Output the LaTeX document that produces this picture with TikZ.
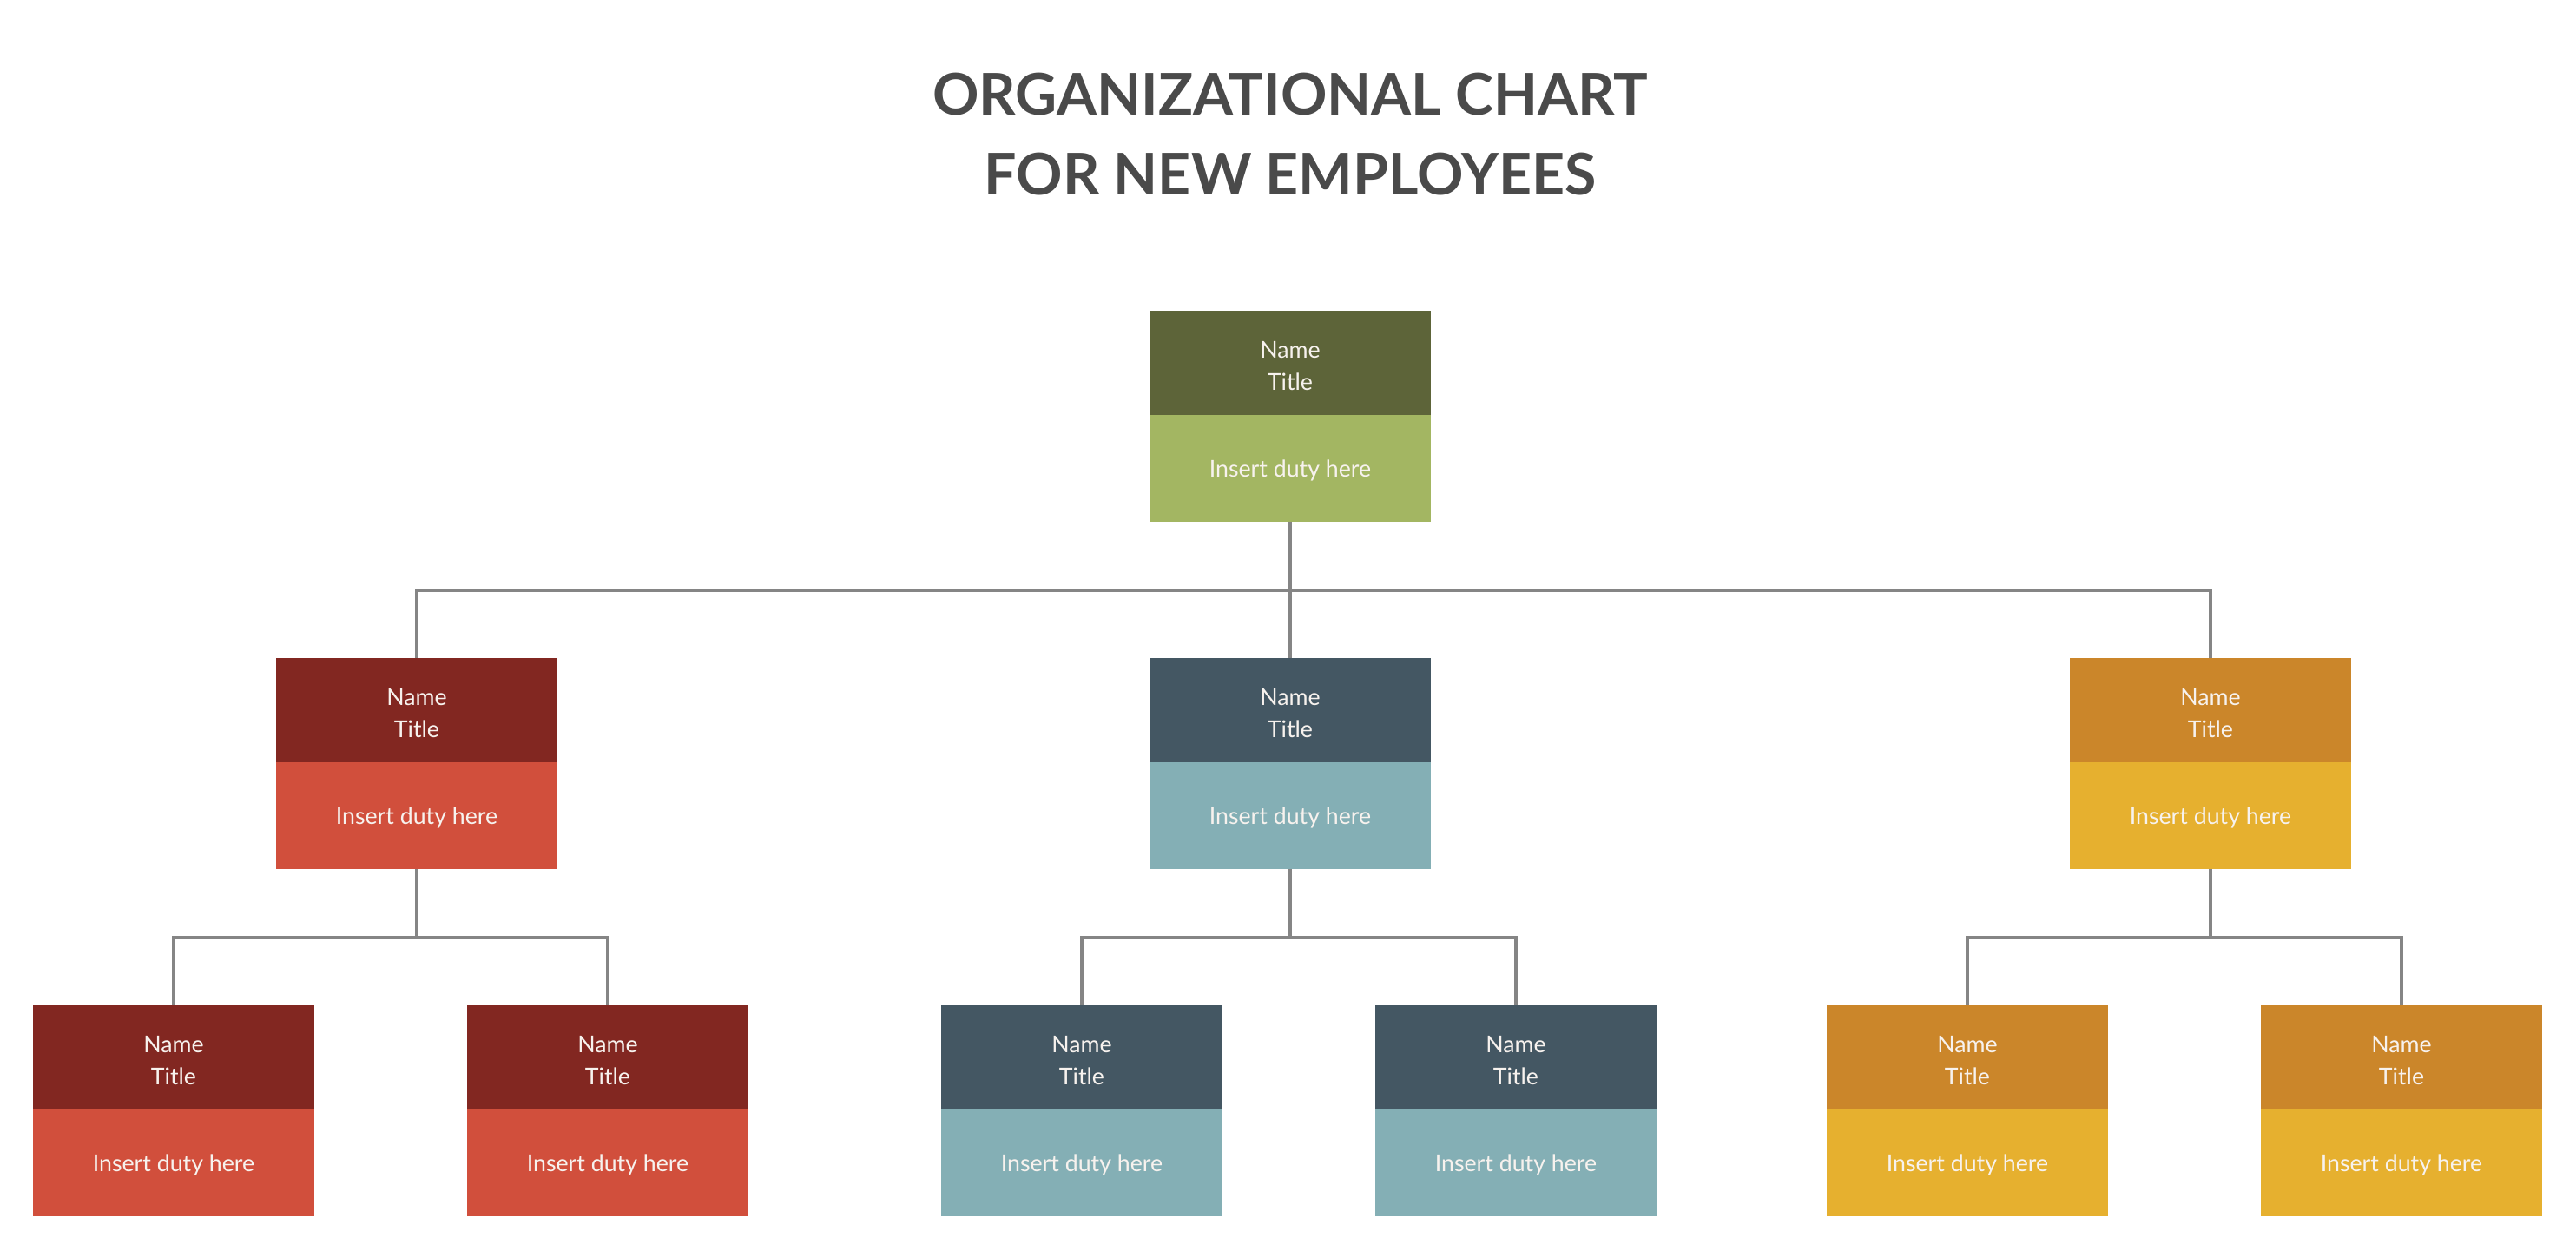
\documentclass[tikz,border=0pt]{standalone}
\usepackage{fontspec}
\setmainfont{Lato}
\usetikzlibrary{positioning}

\definecolor{olivedark}{HTML}{5D6439}
\definecolor{olivelight}{HTML}{A3B662}
\definecolor{reddark}{HTML}{822721}
\definecolor{redlight}{HTML}{D14F3C}
\definecolor{slatedark}{HTML}{445763}
\definecolor{slatelight}{HTML}{84AFB5}
\definecolor{amberdark}{HTML}{CB862A}
\definecolor{amberlight}{HTML}{E6B02F}
\definecolor{titlegray}{HTML}{4A4A4A}
\definecolor{linkgray}{HTML}{858585}
\definecolor{boxtext}{HTML}{F7F2EE}

\tikzset{
  headbox/.style={rectangle, minimum width=3.24cm, minimum height=1.20cm,
    inner sep=0pt, outer sep=0pt, align=center, text=boxtext,
    text height=18.2pt, font=\fontsize{7.6}{10.5}\selectfont},
  dutybox/.style={headbox, minimum height=1.23cm, text height=6.8pt},
  titletext/.style={anchor=base, text=titlegray,
    font=\fontsize{18.85}{24}\selectfont\bfseries},
  link/.style={draw=linkgray, line width=1.1pt}
}

\begin{document}
\begin{tikzpicture}
\useasboundingbox (0,0) rectangle (29.67,14.40);

% Title
\node[titletext] (title1) at (14.86,13.07) {ORGANIZATIONAL CHART};
\node[titletext] (title2) at (14.86,12.15) {FOR NEW EMPLOYEES};

% Top level
\node[headbox, fill=olivedark] (topH) at (14.86,10.22) {Name\\Title};
\node[dutybox, fill=olivelight, below=0pt of topH] (topD) {Insert duty here};

% Second level
\node[headbox, fill=reddark] (leftH) at (4.80,6.22) {Name\\Title};
\node[dutybox, fill=redlight, below=0pt of leftH] (leftD) {Insert duty here};

\node[headbox, fill=slatedark] (midH) at (14.86,6.22) {Name\\Title};
\node[dutybox, fill=slatelight, below=0pt of midH] (midD) {Insert duty here};

\node[headbox, fill=amberdark] (rightH) at (25.46,6.22) {Name\\Title};
\node[dutybox, fill=amberlight, below=0pt of rightH] (rightD) {Insert duty here};

% Third level
\node[headbox, fill=reddark] (leftAH) at (2.00,2.22) {Name\\Title};
\node[dutybox, fill=redlight, below=0pt of leftAH] (leftAD) {Insert duty here};

\node[headbox, fill=reddark] (leftBH) at (7.00,2.22) {Name\\Title};
\node[dutybox, fill=redlight, below=0pt of leftBH] (leftBD) {Insert duty here};

\node[headbox, fill=slatedark] (midAH) at (12.46,2.22) {Name\\Title};
\node[dutybox, fill=slatelight, below=0pt of midAH] (midAD) {Insert duty here};

\node[headbox, fill=slatedark] (midBH) at (17.46,2.22) {Name\\Title};
\node[dutybox, fill=slatelight, below=0pt of midBH] (midBD) {Insert duty here};

\node[headbox, fill=amberdark] (rightAH) at (22.66,2.22) {Name\\Title};
\node[dutybox, fill=amberlight, below=0pt of rightAH] (rightAD) {Insert duty here};

\node[headbox, fill=amberdark] (rightBH) at (27.66,2.22) {Name\\Title};
\node[dutybox, fill=amberlight, below=0pt of rightBH] (rightBD) {Insert duty here};

% Connectors
\draw[link] (topD.south) -- ++(0,-0.79) -| (leftH.north);
\draw[link] (topD.south) -- (midH.north);
\draw[link] (topD.south) -- ++(0,-0.79) -| (rightH.north);

\draw[link] (leftD.south) -- ++(0,-0.79) -| (leftAH.north);
\draw[link] (leftD.south) -- ++(0,-0.79) -| (leftBH.north);
\draw[link] (midD.south) -- ++(0,-0.79) -| (midAH.north);
\draw[link] (midD.south) -- ++(0,-0.79) -| (midBH.north);
\draw[link] (rightD.south) -- ++(0,-0.79) -| (rightAH.north);
\draw[link] (rightD.south) -- ++(0,-0.79) -| (rightBH.north);
\end{tikzpicture}
\end{document}
